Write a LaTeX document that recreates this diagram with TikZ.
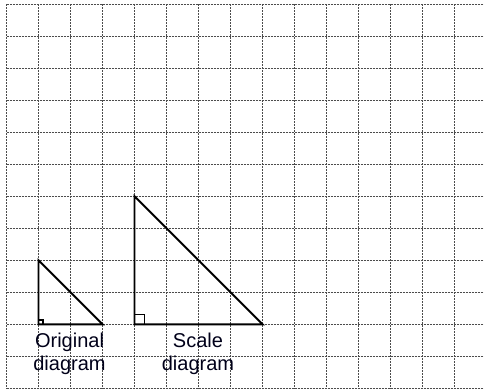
\documentclass[tikz,border=0pt]{standalone}
\usepackage{fontspec}
\setmainfont{Liberation Sans}
\usetikzlibrary{calc}
\begin{document}
\begin{tikzpicture}[x=1pt,y=-1pt,
  gridline/.style={draw=black!70,line width=1.5pt,dash pattern=on 2pt off 1pt},
  tri/.style={draw=black,line width=1.9pt,line join=miter},
  ra/.style={draw=black,line width=1.4pt},
  lbl/.style={font=\fontsize{20}{22.3}\selectfont,align=center,inner sep=0pt,text=black!90!blue}]
\useasboundingbox (0,0) rectangle (484,389);
% grid
\foreach \k in {0,...,14}{
  \draw[gridline] (6.5+32*\k,4.3) -- (6.5+32*\k,389);
}
\foreach \k in {0,...,12}{
  \draw[gridline] (6.5,4.3+32*\k) -- (484,4.3+32*\k);
}
% original triangle
\coordinate (oA) at (38.5,324.3);
\coordinate (oB) at (38.5,260.3);
\coordinate (oC) at (102.5,324.3);
\draw[tri] (oA) -- (oB) -- (oC) -- cycle;
\draw[ra] ($(oA)+(0,-4.5)$) -- ++(4.5,0) -- ++(0,4.5);
% scale triangle
\coordinate (sA) at (134.5,324.3);
\coordinate (sB) at (134.5,196.3);
\coordinate (sC) at (262.5,324.3);
\draw[tri] (sA) -- (sB) -- (sC) -- cycle;
\draw[ra] ($(sA)+(0,-10)$) -- ++(10,0) -- ++(0,10);
% labels
\node[lbl,anchor=base] (orig) at (69.5,370) {Original\\diagram};
\node[lbl,anchor=base] (scal) at (198,370) {Scale\\diagram};
\end{tikzpicture}
\end{document}
